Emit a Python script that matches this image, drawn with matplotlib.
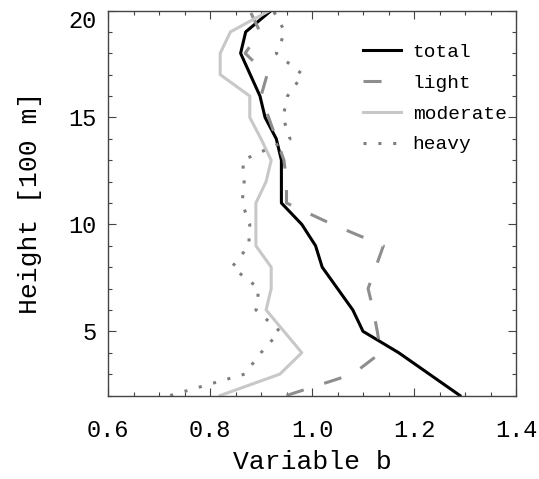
import matplotlib
matplotlib.use("Agg")
import matplotlib.pyplot as plt
from matplotlib.ticker import MultipleLocator

plt.rcParams['font.family'] = ['Liberation Mono', 'DejaVu Sans Mono']
plt.rcParams['lines.scale_dashes'] = False

# height in units of 100 m
height = [2, 3, 4, 5, 6, 7, 8, 9, 10, 11, 12, 13, 14, 15, 16, 17, 18, 19, 20]

total = [1.29, 1.23, 1.17, 1.10, 1.08, 1.05, 1.02, 1.007, 0.98, 0.94,
         0.94, 0.94, 0.93, 0.908, 0.898, 0.879, 0.86, 0.87, 0.92]
light = [0.95, 1.08, 1.135, 1.128, 1.12, 1.11, 1.125, 1.14, 1.04, 0.95,
         0.95, 0.945, 0.93, 0.915, 0.90, 0.912, 0.869, 0.898, 0.878]
moderate = [0.82, 0.937, 0.98, 0.945, 0.91, 0.92, 0.92, 0.89, 0.89, 0.89,
            0.91, 0.92, 0.90, 0.878, 0.878, 0.82, 0.82, 0.84, 0.917]
heavy = [0.722, 0.868, 0.90, 0.937, 0.89, 0.896, 0.843, 0.876, 0.878, 0.863,
         0.867, 0.864, 0.957, 0.943, 0.952, 0.982, 0.93, 0.947, 0.924]

xticks = [0.6, 0.8, 1.0, 1.2, 1.4]
xticklabels = ["0.6", "0.8", "1.0", "1.2", "1.4"]
yticks = [5, 10, 15, 20]

fig = plt.figure(figsize=(5.39, 4.79), dpi=100)
ax = fig.add_axes([108/539, 1 - 395.5/479, 408/539, 385/479])

ax.plot(total, height, color='black', lw=2.2, label='total')
ax.plot(light, height, color='#8e8e8e', lw=2.2, dashes=(13, 15.5),
        dash_capstyle='butt', label='light')
ax.plot(moderate, height, color='#c8c8c8', lw=2.2, label='moderate')
ax.plot(heavy, height, color='#7e7e7e', lw=2.2, dashes=(2.2, 8.5),
        dash_capstyle='butt', label='heavy')

ax.set_xlim(0.6, 1.4)
ax.set_ylim(2, 20)
ax.set_xticks(xticks)
ax.set_xticklabels(xticklabels)
ax.set_yticks(yticks)
ax.xaxis.set_minor_locator(MultipleLocator(0.05))
ax.yaxis.set_minor_locator(MultipleLocator(1))
ax.tick_params(which='both', direction='in', top=True, right=True,
               color='#444444', width=0.8)
ax.tick_params(which='major', length=5.5, labelsize=17)
ax.tick_params(which='minor', length=3)
ax.tick_params(axis='x', pad=17)
ax.tick_params(axis='y', pad=8)
for s in ax.spines.values():
    s.set_color('#444444')
    s.set_linewidth(1.0)

ax.yaxis.get_major_ticks()[-1].label1.set_verticalalignment('top')

ax.set_xlabel('Variable b', fontsize=19, labelpad=6)
ax.set_ylabel('Height [100 m]', fontsize=19, labelpad=19)

ax.legend(loc='upper left', bbox_to_anchor=(0.625, 0.915), frameon=False,
          fontsize=14, handlelength=1.95, handletextpad=0.6,
          labelspacing=0.68, borderpad=0, borderaxespad=0)

fig.savefig('out.png', dpi=100)
